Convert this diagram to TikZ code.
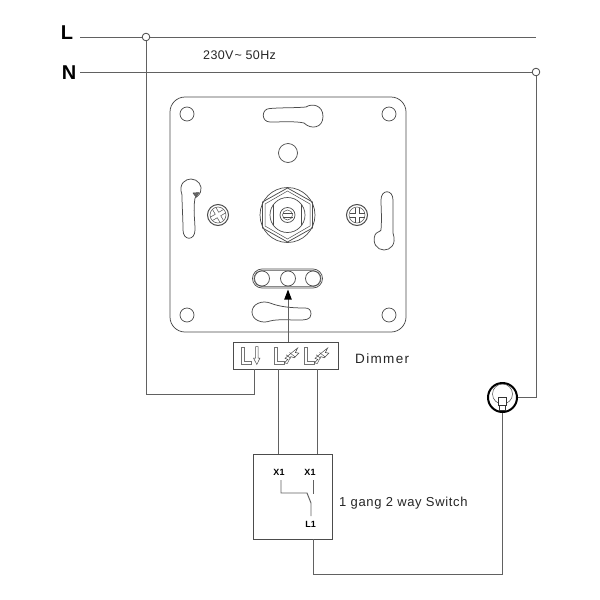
\documentclass[tikz,border=0pt]{standalone}
\usepackage{fontspec}
\setmainfont{Liberation Sans}
\begin{document}
\begin{tikzpicture}[x=1pt,y=-1pt,
  wire/.style={draw=black!62,line width=0.95pt},
  plate/.style={draw=black!70,line width=0.75pt},
  fine/.style={draw=black!70,line width=0.5pt},
  sym/.style={draw=black!55,line width=0.75pt},
  junction/.style={circle,draw=black!70,fill=white,line width=0.7pt,minimum size=7.5pt,inner sep=0pt},
  hole/.style={circle,draw=black!70,line width=0.7pt,inner sep=0pt},
  box/.style={rectangle,draw=black!70,line width=0.9pt,inner sep=0pt},
  lbl/.style={inner sep=0pt,text=black!85},
  tiny/.style={inner sep=0pt,font=\bfseries\fontsize{9}{9}\selectfont}]
\useasboundingbox (0,0) rectangle (600,600);
\fill[white] (0,0) rectangle (600,600);
% named anchors
\coordinate (Lstart) at (80,37);
\coordinate (Lend) at (536,37);
\coordinate (Nstart) at (80,72);
\node[junction] (jL) at (146,37) {};
\node[junction] (jN) at (536,72) {};
\node[box,minimum width=105pt,minimum height=27pt] (term) at (285.5,355.5) {};
\node[box,minimum width=79pt,minimum height=85pt] (sw) at (292.5,496.5) {};
\node[circle,draw=black,line width=2pt,minimum size=29pt,inner sep=0pt] (lamp) at (502.5,397.5) {};
\coordinate (t1) at (254,369);
\coordinate (t2) at (278,369);
\coordinate (t3) at (317,369);
\coordinate (s1) at (278,454);
\coordinate (s2) at (317,454);
\coordinate (s3) at (313,539);
\coordinate (tt) at (288,342);
% mains
\draw[wire] (Lstart) -- (jL) -- (Lend);
\draw[wire] (Nstart) -- (jN);
\draw[wire] (jL) |- (254,394) -- (t1);
\draw[wire] (jN) |- (lamp);
\draw[wire] (t2) -- (s1);
\draw[wire] (t3) -- (s2);
\draw[wire] (lamp) -- (502.5,574) -| (s3);
\node[junction] at (jL) {};
\node[junction] at (jN) {};
% labels
\node[lbl,font=\bfseries\fontsize{20}{20}\selectfont,text=black] (labL) at (67,32.5) {L};
\node[lbl,font=\bfseries\fontsize{20}{20}\selectfont,text=black] (labN) at (69,72.5) {N};
\node[lbl,font=\fontsize{12.5}{13}\selectfont,anchor=west] (volt) at (203,55) {\addfontfeature{LetterSpace=3}230V\kern1pt\textasciitilde{} 50Hz};
\node[lbl,font=\fontsize{13.5}{14}\selectfont,anchor=west] (dim) at (355,358.5) {\addfontfeature{LetterSpace=10}Dimmer};
\node[lbl,font=\fontsize{13}{13}\selectfont,anchor=west] (swt) at (339,503) {\addfontfeature{LetterSpace=5}1 gang 2 way Switch};
% plate
\draw[plate] (185,97) -- (391,97) arc[start angle=-90,end angle=0,radius=15] -- (406,317) arc[start angle=0,end angle=90,radius=15] -- (185,332) arc[start angle=90,end angle=180,radius=15] -- (170,112) arc[start angle=180,end angle=270,radius=15] -- cycle;
\foreach \p/\n in {187/114,389/114,187/315,389/315}{\node[hole,minimum size=14pt] at (\p,\n) {};}
\node[hole,minimum size=19pt] at (288,153) {};
% top slot
\draw[plate] (270,108.5) .. controls (282,107.5) and (295,108) .. (306,107) .. controls (312,103) and (323,105) .. (323,116.5) .. controls (323,128) and (311,130) .. (304,123) .. controls (295,121) and (282,122) .. (270,122) .. controls (261,122) and (261,108.5) .. (270,108.5) -- cycle;
% left slot
\draw[plate] (182,195) .. controls (178,183) and (186,179) .. (191,179) .. controls (198,179) and (203,186) .. (200.5,192) .. controls (199,196) and (196,197) .. (195,198) .. controls (193,210) and (195,220) .. (195,230) .. controls (195,241) and (183,241) .. (183,230) .. controls (183,218) and (182,206) .. (182,195) -- cycle;
\draw[fine,fill=black!60] (193,193) -- (199,192.5) -- (196,197) -- cycle;
% right slot
\draw[plate] (393,233) .. controls (397,245) and (390,250) .. (384,250) .. controls (377,250) and (372,243) .. (375,235) .. controls (376,232) and (380,232) .. (381,230) .. controls (382,218) and (381,208) .. (381,200) .. controls (381,189) and (393,189) .. (393,200) .. controls (393,212) and (393,222) .. (393,233) -- cycle;
% bottom slot
\draw[plate] (311,314) .. controls (311,320) and (305,320) .. (298,320) .. controls (288,320) and (278,319) .. (270,321) .. controls (262,324) and (252,320) .. (252,312) .. controls (252,304) and (262,300) .. (270,303) .. controls (280,307) and (292,308) .. (305,308) .. controls (309,308) and (311,310) .. (311,314) -- cycle;
% centre knob
\node[hole,minimum size=55pt] at (287.5,215) {};
\draw[plate] (287.5,188) -- (312.5,202) -- (312.5,228) -- (287.5,242) -- (262.5,228) -- (262.5,202) -- cycle;
\draw[fine] (287.5,191) -- (310,204) -- (310,226) -- (287.5,239) -- (265,226) -- (265,204) -- cycle;
\node[hole,minimum size=35pt] at (287.5,215) {};
\draw[fine] (273.5,205) -- (273.5,225) (301.5,205) -- (301.5,225);
\node[hole,minimum size=15pt] at (287.5,215) {};
\node[hole,minimum size=10pt,line width=0.5pt] at (287.5,215) {};
\draw[fine] (282.5,213) -- (292.5,213) (282.5,217) -- (292.5,217);
% screws
\foreach \x/\r in {218/30,357/0}{
  \node[hole,minimum size=21pt,line width=1pt] at (\x,215) {};
  \node[hole,minimum size=16pt,line width=0.5pt] at (\x,215) {};
  \begin{scope}[shift={(\x,215)},rotate=\r]
  \draw[fine] (-2,-7.5) -- (-2,-2) -- (-7.5,-2) (2,-7.5) -- (2,-2) -- (7.5,-2) (-2,7.5) -- (-2,2) -- (-7.5,2) (2,7.5) -- (2,2) -- (7.5,2);
  \end{scope}
}
% bottom capsule
\draw[plate] (262,269) -- (313,269) arc[start angle=-90,end angle=90,radius=9.5] -- (262,288) arc[start angle=90,end angle=270,radius=9.5] -- cycle;
\draw[fine] (262,270.5) -- (313,270.5) arc[start angle=-90,end angle=90,radius=8] -- (262,286.5) arc[start angle=90,end angle=270,radius=8] -- cycle;
\foreach \x in {262,288,313}{\node[hole,minimum size=15pt,fill=white] at (\x,278.5) {};}
% arrow
\draw[wire] (tt) -- (288,299);
\draw[fill=black,draw=none] (288,289.5) -- (291.8,299.5) -- (284.2,299.5) -- cycle;
% terminal symbols
\foreach \x in {241,274,304}{
  \draw[sym,line join=miter] (\x,347) -- (\x+3.5,347) -- (\x+3.5,361) -- (\x+10,361) -- (\x+10,364) -- (\x,364) -- cycle;
}
\draw[fine] (255.5,346.5) -- (258,346.5) -- (258,358) -- (260,358) -- (256.8,364.5) -- (253.5,358) -- (255.5,358) -- cycle;
\foreach \x in {285,315}{
 \begin{scope}[shift={(\x,356)},scale=1.15]
  \draw[fine] (-0.5,6) -- (2.5,3) -- (0,2) -- (6,-3) -- (11,-7) -- (9,-3) -- (12,-2.5) -- (8,1.5) -- (5,0.5) -- (2,6.5) -- cycle;
  \draw[fine] (1,-1) -- (5,2) (4,-3) -- (9,1);
 \end{scope}
}
% switch internals
\node[tiny] (x1a) at (279,472.5) {X1};
\node[tiny] (x1b) at (310,472.5) {X1};
\node[tiny] (l1) at (310.5,524) {L1};
\draw[wire] (281,480) -- (281,493) -- (307,493) -- (311,503) -- (311,516);
\draw[wire] (313.5,480) -- (313.5,493.5);
% lamp
\node[circle,draw=black!70,line width=0.5pt,minimum size=20pt,inner sep=0pt] at (502.5,394) {};
\draw[fill=white,draw=black!80,line width=0.6pt] (498.5,397) rectangle (506.5,405);
\draw[draw=black!80,line width=0.6pt] (499.5,405) rectangle (505.5,410);
\end{tikzpicture}
\end{document}
